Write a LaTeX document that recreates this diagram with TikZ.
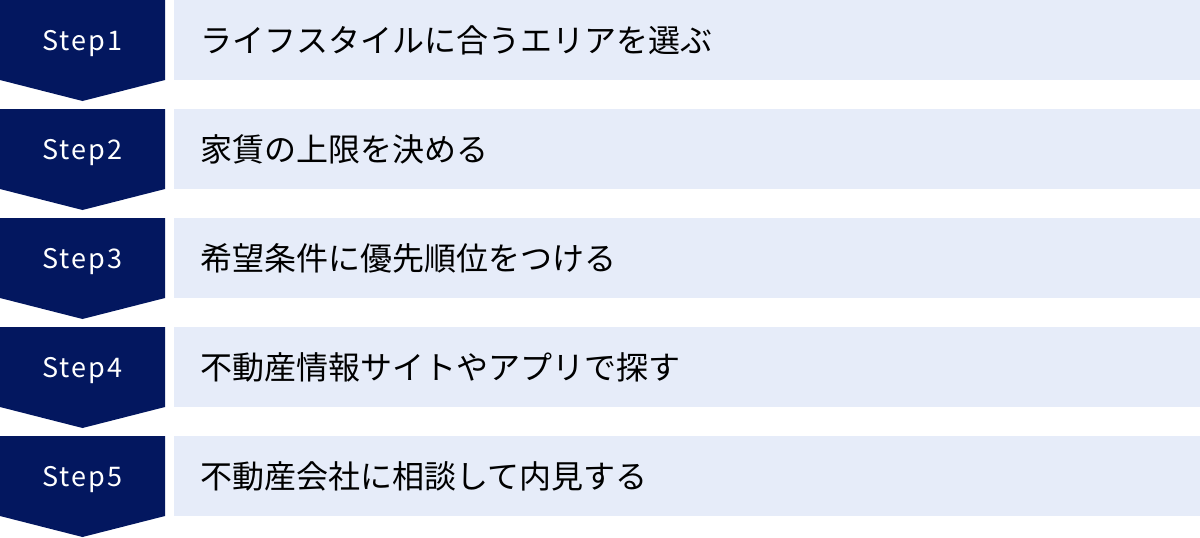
\documentclass[tikz,border=0pt]{standalone}
\usepackage{fontspec}
\setmainfont{Noto Sans CJK JP}
\newfontfamily\stepfont[LetterSpace=8]{Noto Sans CJK JP}
\definecolor{navy}{HTML}{03175F}
\definecolor{lightbg}{HTML}{E6ECF9}
\begin{document}
\begin{tikzpicture}[x=1pt,y=-1pt,
  stepshape/.style={fill=navy,draw=none},
  stepbox/.style={fill=lightbg,draw=none},
  steplabel/.style={text=white,font=\stepfont\fontsize{27}{32}\selectfont,inner sep=0pt},
  boxlabel/.style={text=black,font=\fontsize{32}{38}\selectfont,inner sep=0pt,anchor=west}]
\useasboundingbox (0,0) rectangle (1200,538);
\foreach \i/\t in {0/ライフスタイルに合うエリアを選ぶ,1/家賃の上限を決める,2/希望条件に優先順位をつける,3/不動産情報サイトやアプリで探す,4/不動産会社に相談して内見する}{
  \pgfmathsetmacro{\yy}{109*\i}
  \fill[stepshape] (0,\yy) -- (165,\yy) -- (165,\yy+80) -- (82.5,\yy+101) -- (0,\yy+80) -- cycle;
  \fill[stepbox] (174,\yy) rectangle (1200,\yy+79.5);
  \pgfmathtruncatemacro{\n}{\i+1}
  \node[steplabel] (s\n) at (82.5,\yy+44) {Step\n};
  \node[boxlabel] (t\n) at (200,\yy+40) {\t};
}
\end{tikzpicture}
\end{document}
